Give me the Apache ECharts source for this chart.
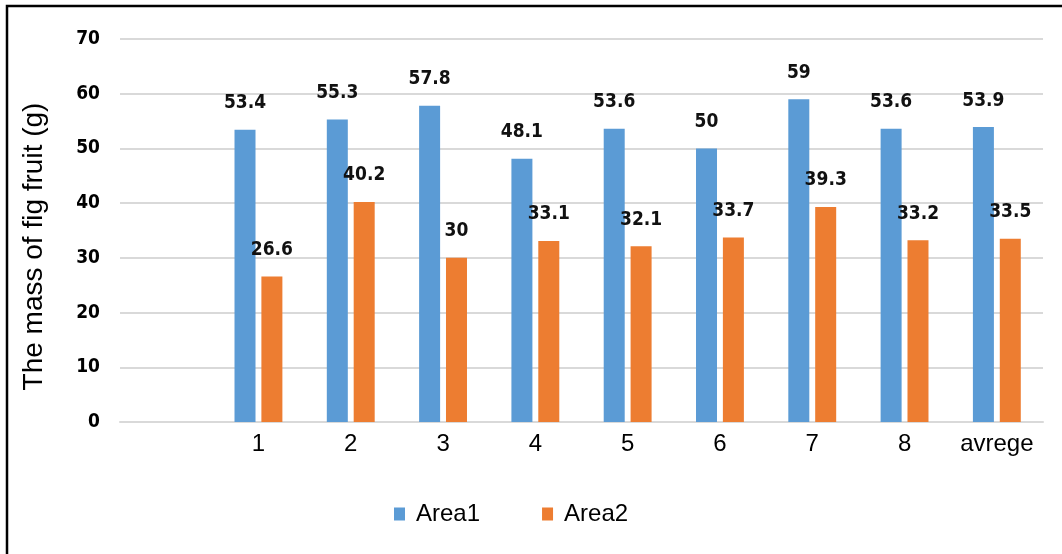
<!DOCTYPE html>
<html>
<head>
<meta charset="utf-8">
<script src="https://cdn.jsdelivr.net/npm/echarts@6/dist/echarts.min.js"></script>
<style>
html,body{margin:0;padding:0;background:#fff;}
#chart{width:1062px;height:554px;}
</style>
</head>
<body>
<div id="chart"></div>
<script>
const categories = ['', '1', '2', '3', '4', '5', '6', '7', '8', 'avrege'];
const area1 = [null, 53.4, 55.3, 57.8, 48.1, 53.6, 50, 59, 53.6, 53.9];
const area2 = [null, 26.6, 40.2, 30, 33.1, 32.1, 33.7, 39.3, 33.2, 33.5];
const seriesNames = ['Area1', 'Area2'];
const yTicks = { min: 0, max: 70, interval: 10 };

const boldFont = "'DejaVu Sans Condensed', 'Liberation Sans Narrow', 'Liberation Sans', sans-serif";
const plainFont = "'Liberation Sans', Arial, sans-serif";

const chart = echarts.init(document.getElementById('chart'));
const labelCfg = {
  show: true,
  position: 'top',
  distance: 17,
  color: '#111',
  fontFamily: boldFont,
  fontWeight: 'bold',
  fontSize: 19
};
chart.setOption({
  animation: false,
  backgroundColor: '#fff',
  graphic: [{
    type: 'rect',
    shape: { x: 7, y: 6, width: 1200, height: 700 },
    style: { fill: 'none', stroke: '#000', lineWidth: 2.5 },
    silent: true,
    z: 100
  }],
  grid: { left: 120, right: 19, top: 39, bottom: 132 },
  legend: {
    data: seriesNames,
    left: 389,
    top: 497,
    icon: 'rect',
    itemWidth: 11,
    itemHeight: 13,
    itemGap: 62,
    textStyle: { fontFamily: plainFont, fontSize: 24, color: '#000', padding: [0, 0, 0, 6] }
  },
  xAxis: {
    type: 'category',
    data: categories,
    axisLine: { show: true, lineStyle: { color: '#d9d9d9', width: 2 } },
    axisTick: { show: false },
    axisLabel: { fontFamily: plainFont, fontSize: 24, color: '#000', margin: 10, interval: 0 },
    splitLine: { show: false }
  },
  yAxis: {
    type: 'value',
    min: yTicks.min,
    max: yTicks.max,
    interval: yTicks.interval,
    name: 'The mass of fig fruit (g)',
    nameLocation: 'middle',
    nameGap: 72,
    nameTextStyle: { fontFamily: plainFont, fontSize: 28, color: '#000', padding: [0, 32, 0, 0] },
    axisLine: { show: false },
    axisTick: { show: false },
    axisLabel: { fontFamily: boldFont, fontWeight: 'bold', fontSize: 19, color: '#000', margin: 20 },
    splitLine: { lineStyle: { color: '#d9d9d9', width: 2 } }
  },
  series: [
    {
      name: seriesNames[0], type: 'bar', data: area1,
      barWidth: 21, barGap: '28%',
      itemStyle: { color: '#5b9bd5' },
      label: labelCfg
    },
    {
      name: seriesNames[1], type: 'bar', data: area2,
      barWidth: 21, barGap: '28%',
      itemStyle: { color: '#ed7d31' },
      label: labelCfg
    }
  ]
});
</script>
</body>
</html>
